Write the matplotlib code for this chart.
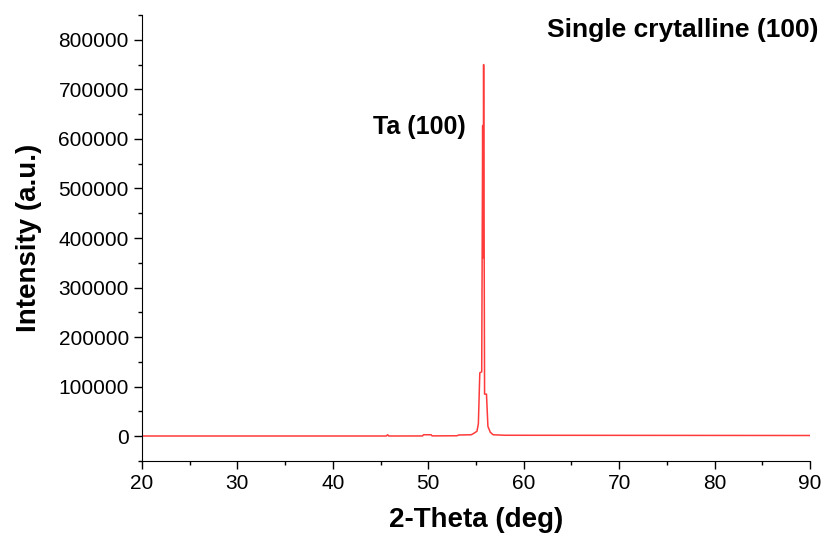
import matplotlib
matplotlib.use("Agg")
import matplotlib.pyplot as plt
from matplotlib.ticker import MultipleLocator

# --- DONNEES ---
two_theta = [20.0, 45.6, 45.75, 45.85, 49.4, 49.5, 50.3, 50.4, 53.0, 53.2,
             54.5, 54.7, 55.1, 55.25, 55.4, 55.6, 55.7, 55.75, 55.8, 55.85,
             55.9, 56.1, 56.25, 56.5, 56.8, 58.0, 90.0]
intensity = [500, 500, 3000, 500, 600, 3000, 3000, 700, 1000, 2500,
             3000, 5000, 10000, 25000, 128000, 130000, 627000, 360000, 750000, 430000,
             85000, 85000, 20000, 8000, 3000, 2000, 1500]

plt.rcParams['font.family'] = ['Liberation Sans', 'DejaVu Sans']

fig = plt.figure(figsize=(8.24, 5.42), dpi=100)
ax = fig.add_axes([0.1723, 0.1494, 0.8107, 0.8229])

ax.plot(two_theta, intensity, color='#ff3a3a', lw=1.1)

ax.set_xlim(20, 90)
ax.set_ylim(-50000, 850000)
ax.xaxis.set_major_locator(MultipleLocator(10))
ax.xaxis.set_minor_locator(MultipleLocator(5))
ax.yaxis.set_major_locator(MultipleLocator(100000))
ax.yaxis.set_minor_locator(MultipleLocator(50000))
ax.tick_params(which='major', direction='out', length=6, width=1, labelsize=15)
ax.tick_params(which='minor', direction='out', length=3, width=1)

ax.spines['top'].set_visible(False)
ax.spines['right'].set_visible(False)

ax.set_xlabel("2-Theta (deg)", fontsize=20, fontweight='bold', labelpad=10)
ax.set_ylabel("Intensity (a.u.)", fontsize=20, fontweight='bold', labelpad=12)

ax.text(90.9, 820000, "Single crytalline (100)", fontsize=19, fontweight='bold',
        ha='right', va='center', clip_on=False)
ax.text(49.1, 625000, "Ta (100)", fontsize=18, fontweight='bold',
        ha='center', va='center')

fig.savefig("out.png", dpi=100)
